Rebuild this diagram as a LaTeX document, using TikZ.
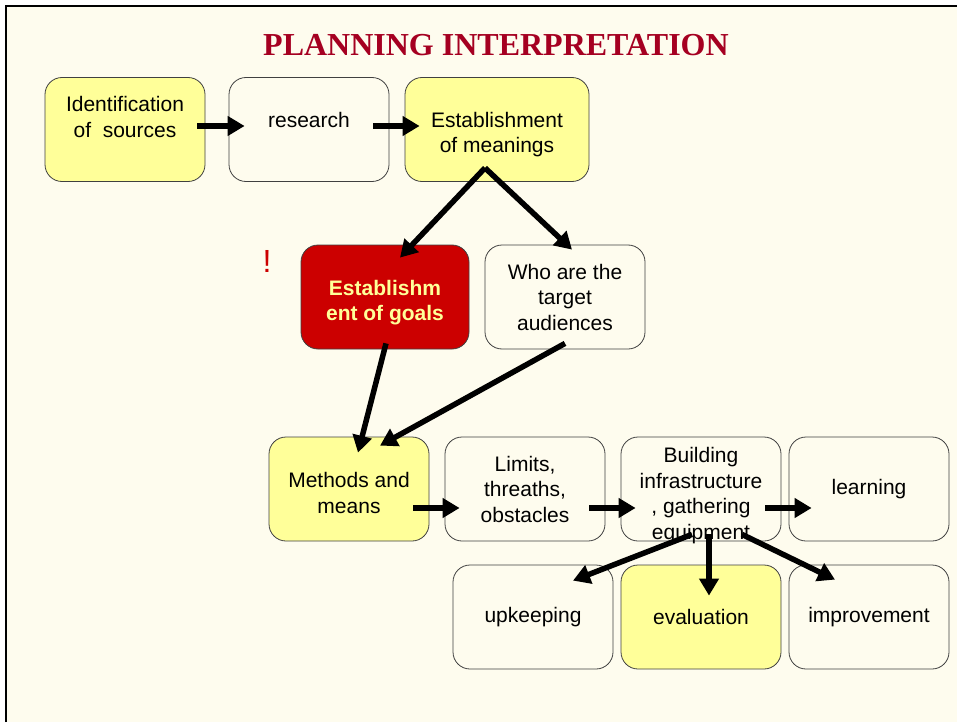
\documentclass[tikz,border=0pt]{standalone}
\usepackage{fontspec}
\setmainfont{Liberation Sans}
\newfontfamily\titlefont{Liberation Serif}
\usetikzlibrary{arrows.meta,calc}
\definecolor{paper}{HTML}{FEFCEE}
\definecolor{pale}{HTML}{FFFF99}
\definecolor{goalred}{HTML}{CC0000}
\definecolor{wine}{HTML}{A50021}
\begin{document}
\begin{tikzpicture}[x=1pt,y=-1pt,
    txt/.style={align=center,inner sep=0pt,font=\fontsize{21}{25.5}\selectfont},
    box/.style={txt,draw=black!75,line width=0.8pt,rounded corners=17pt,minimum width=160pt,minimum height=104pt},
    arr/.style={line width=5.5pt,-{Triangle[length=17pt,width=19pt]}}]
    \useasboundingbox (0,0) rectangle (957,722);
    \fill[paper] (6,6) rectangle (957,722);
    \draw[line width=2.5pt] (6,722) -- (6,6) -- (957,6);
    \node[text=wine,font=\titlefont\bfseries\fontsize{32}{36}\selectfont] (title) at (496,45) {PLANNING INTERPRETATION};
    \node[box,fill=pale,label={[txt,yshift=12.5pt]center:{Identification\\of~~sources}}] (src) at (125,129.5) {};
    \node[box,label={[txt,yshift=9.5pt]center:research}] (research) at (309,129.5) {};
    \node[box,fill=pale,minimum width=184pt,label={[txt,yshift=-5pt]center:{Establishment\\of meanings}}] (meanings) at (497,129.5) {};
    \node[box,fill=goalred,minimum width=168pt,label={[txt,text=pale,font=\fontsize{21}{25.5}\selectfont\bfseries,yshift=-5.5pt]center:{Establishm\\ent of goals}}] (goals) at (385,297) {};
    \node[box] (audience) at (565,297) {Who are the\\target\\audiences};
    \node[txt,text=goalred,font=\fontsize{32}{36}\selectfont] (mark) at (267,261) {!};
    \node[box,fill=pale,label={[txt,yshift=-4pt]center:{Methods and\\means}}] (methods) at (349,489) {};
    \node[box] (limits) at (525,489) {Limits,\\threaths,\\obstacles};
    \node[box,label={[txt,yshift=-6.5pt]center:{Building\\infrastructure\\, gathering\\equipment}}] (building) at (701,489) {};
    \node[box] (learning) at (869,489) {learning};
    \node[box] (upkeep) at (533,617) {upkeeping};
    \node[box,fill=pale] (evaluation) at (701,617) {evaluation};
    \node[box] (improvement) at (869,617) {improvement};
    \draw[arr] ($(src.east)+(-8,-3.5)$) -- ($(research.west)+(16,-3.5)$);
    \draw[arr] ($(research.east)+(-16,-3.5)$) -- ($(meanings.west)+(15,-3.5)$);
    \draw[arr] ($(meanings.south)+(-12,-14)$) -- ($(goals.north)+(15,13)$);
    \draw[arr] ($(meanings.south)+(-12,-14)$) -- ($(audience.north)+(7,5)$);
    \draw[arr] ($(goals.south)+(1,-6)$) -- ($(methods.north)+(9,16)$);
    \draw[arr] ($(audience.south)+(0,-6)$) -- ($(methods.north)+(31,9)$);
    \draw[arr] ($(methods.east)+(-16,19)$) -- ($(limits.west)+(15,19)$);
    \draw[arr] ($(limits.east)+(-16,19)$) -- ($(building.west)+(15,19)$);
    \draw[arr] ($(building.east)+(-16,19)$) -- ($(learning.west)+(23,19)$);
    \draw[arr] ($(building.south)+(-9,-7)$) -- ($(upkeep.north)+(40,16)$);
    \draw[arr] ($(building.south)+(8,-7)$) -- ($(evaluation.north)+(8,31)$);
    \draw[arr] ($(building.south)+(41,-7)$) -- ($(improvement.north)+(-34,15)$);
\end{tikzpicture}
\end{document}
